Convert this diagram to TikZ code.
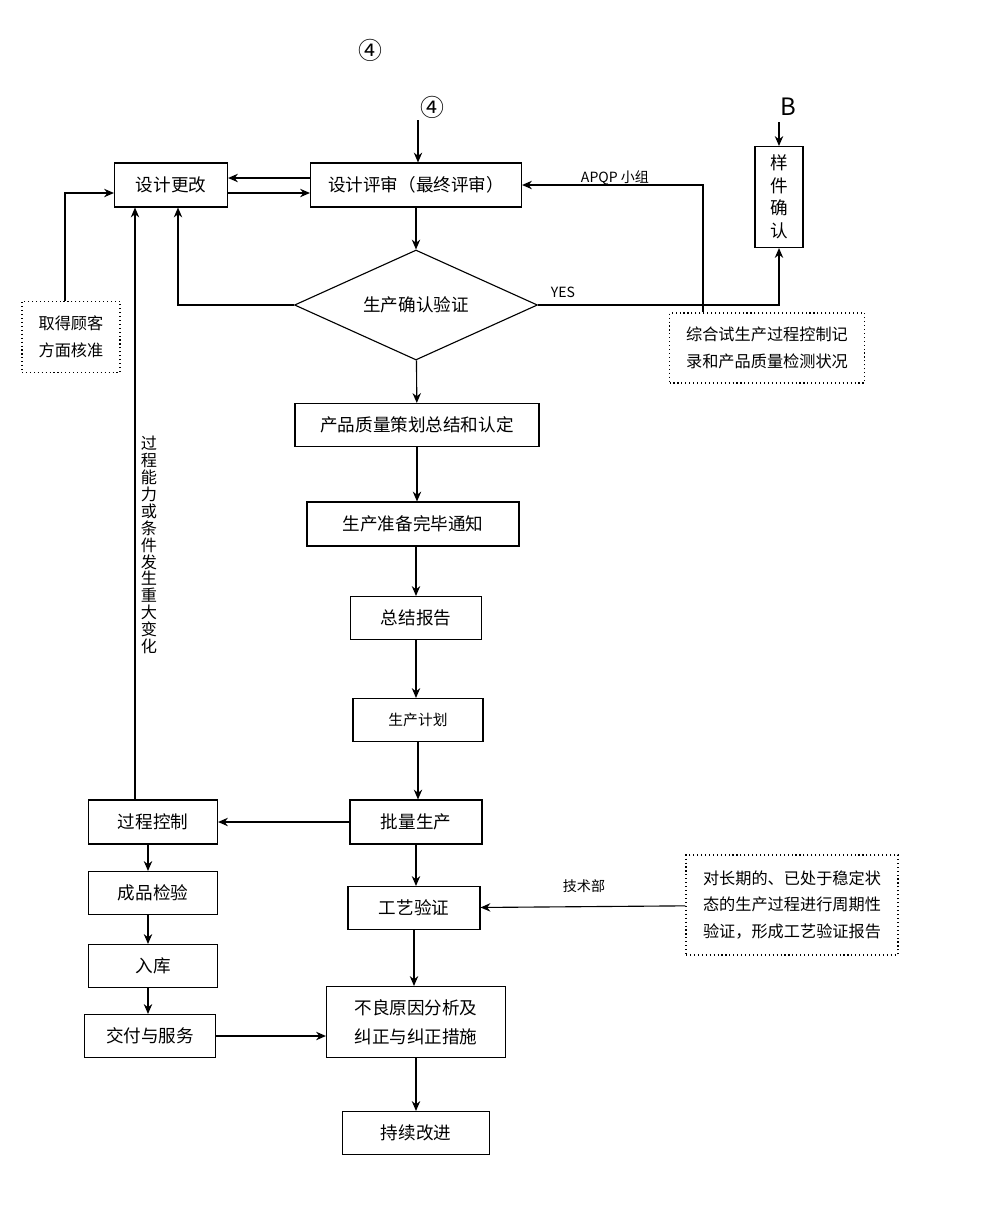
\documentclass[tikz,border=0pt]{standalone}
\usepackage{fontspec}
\setmainfont{Noto Sans CJK SC}
\usetikzlibrary{arrows.meta,positioning,shapes.geometric}
\tikzset{stepbox/.style={draw,rectangle,inner sep=0,font=\fontsize{12.5}{15}\selectfont},
    notebox/.style={draw,dotted,rectangle,inner sep=0,align=left,font=\fontsize{11.5}{19}\selectfont},
    decision/.style={draw,diamond,aspect=2.2,inner sep=0,font=\fontsize{12.5}{15}\selectfont},
    flow/.style={-{Stealth[length=7pt,width=6pt]},thick},
    smalllabel/.style={font=\fontsize{10}{12}\selectfont}
}

\begin{document}
\begin{tikzpicture}[x=0.025cm,y=-0.025cm,line width=0.8pt]
\useasboundingbox (0,0) rectangle (985,1213);

% top markers
\node (markA) [font=\fontsize{17}{20}\selectfont] at (370,50) {④};
\node (markB) [font=\fontsize{17}{20}\selectfont] at (432,107) {④};
\node (markC) [font=\fontsize{17}{20}\selectfont] at (788,107) {B};

% main column
\node (change) [stepbox,minimum width=113*0.025cm,minimum height=44*0.025cm] at (171,185) {设计更改};
\node (review) [stepbox,minimum width=211*0.025cm,minimum height=44*0.025cm] at (416,185) {设计评审（最终评审）};
\node (sample) [stepbox,align=center,minimum width=48*0.025cm,minimum height=101*0.025cm,font=\fontsize{12.5}{16}\selectfont] at (779,197) {样\\件\\确\\认};
\node (confirm) [decision,minimum width=243*0.025cm,minimum height=110*0.025cm] at (416,305) {生产确认验证};
\node (summary) [stepbox,minimum width=244*0.025cm,minimum height=43*0.025cm] at (417,425) {产品质量策划总结和认定};
\node (ready) [stepbox,minimum width=212*0.025cm,minimum height=44*0.025cm] at (413,524) {生产准备完毕通知};
\node (report) [stepbox,minimum width=131*0.025cm,minimum height=43*0.025cm] at (416,618) {总结报告};
\node (plan) [stepbox,minimum width=130*0.025cm,minimum height=43*0.025cm,font=\fontsize{10.5}{12}\selectfont] at (418,720) {生产计划};
\node (batch) [stepbox,minimum width=132*0.025cm,minimum height=44*0.025cm] at (416,822) {批量生产};
\node (techcheck) [stepbox,minimum width=132*0.025cm,minimum height=43*0.025cm] at (414,908) {工艺验证};
\node (defect) [stepbox,align=center,minimum width=179*0.025cm,minimum height=71*0.025cm,font=\fontsize{12.5}{21}\selectfont] at (416,1022) {不良原因分析及\\纠正与纠正措施};
\node (improve) [stepbox,minimum width=147*0.025cm,minimum height=43*0.025cm] at (416,1133) {持续改进};

% left column
\node (control) [stepbox,minimum width=129*0.025cm,minimum height=44*0.025cm] at (153,822) {过程控制};
\node (inspect) [stepbox,minimum width=129*0.025cm,minimum height=43*0.025cm] at (153,893) {成品检验};
\node (store) [stepbox,minimum width=129*0.025cm,minimum height=43*0.025cm] at (153,966) {入库};
\node (deliver) [stepbox,minimum width=131*0.025cm,minimum height=43*0.025cm] at (150,1036) {交付与服务};

% notes
\node (approve) [notebox,minimum width=98*0.025cm,minimum height=71*0.025cm] at (71,337) {取得顾客\\方面核准};
\node (trial) [notebox,minimum width=195*0.025cm,minimum height=70*0.025cm] at (767,348) {综合试生产过程控制记\\录和产品质量检测状况};
\node (periodic) [notebox,minimum width=212*0.025cm,minimum height=100*0.025cm] at (792,905) {对长期的、已处于稳定状\\态的生产过程进行周期性\\验证，形成工艺验证报告};

\node (vlabel) [align=center,font=\fontsize{11.5}{12}\selectfont] at (149,545) {过\\程\\能\\力\\或\\条\\件\\发\\生\\重\\大\\变\\化};
\node (yes) [smalllabel] at (563,292) {YES};
\node (apqp) [smalllabel] at (615,178) {APQP 小组};
\node (tech) [smalllabel] at (584,886) {技术部};

% connectors
\coordinate (topin) at (418,120);
\coordinate (bin) at (779,122);
\draw [flow] (topin) -- (review.north -| topin);
\draw [flow] (bin) -- (sample.north);
\draw [flow] (review.west |- 0,178) -- (change.east |- 0,178);
\draw [flow] (change.east |- 0,193) -- (review.west |- 0,193);
\draw [flow] (review) -- (confirm);
\draw [flow] (confirm.west) -| (change.south -| 178,0);
\draw [flow] (confirm.east) -| (sample.south);
\draw [flow] (trial.north -| 703,0) |- (review.east);
\draw [flow] (approve.north -| 65,0) |- (change.west |- 0,193);
\draw [flow] (control.north -| 135,0) -- (change.south -| 135,0);
\draw [flow] (confirm) -- (summary);
\draw [flow] (summary) -- (ready.north -| summary);
\draw [flow] (ready.south -| report) -- (report);
\draw [flow] (report) -- (plan.north -| report);
\draw [flow] (plan) -- (batch.north -| plan);
\draw [flow] (batch) -- (control);
\draw [flow] (batch) -- (techcheck.north -| batch);
\draw [flow] (periodic) -- (techcheck);
\draw [flow] (techcheck) -- (defect.north -| techcheck);
\draw [flow] (defect) -- (improve);
\draw [flow] (control.south -| 148,0) -- (inspect.north -| 148,0);
\draw [flow] (inspect.south -| 148,0) -- (store.north -| 148,0);
\draw [flow] (store.south -| 148,0) -- (deliver.north -| 148,0);
\draw [flow] (deliver) -- (deliver -| defect.west);

\end{tikzpicture}
\end{document}
